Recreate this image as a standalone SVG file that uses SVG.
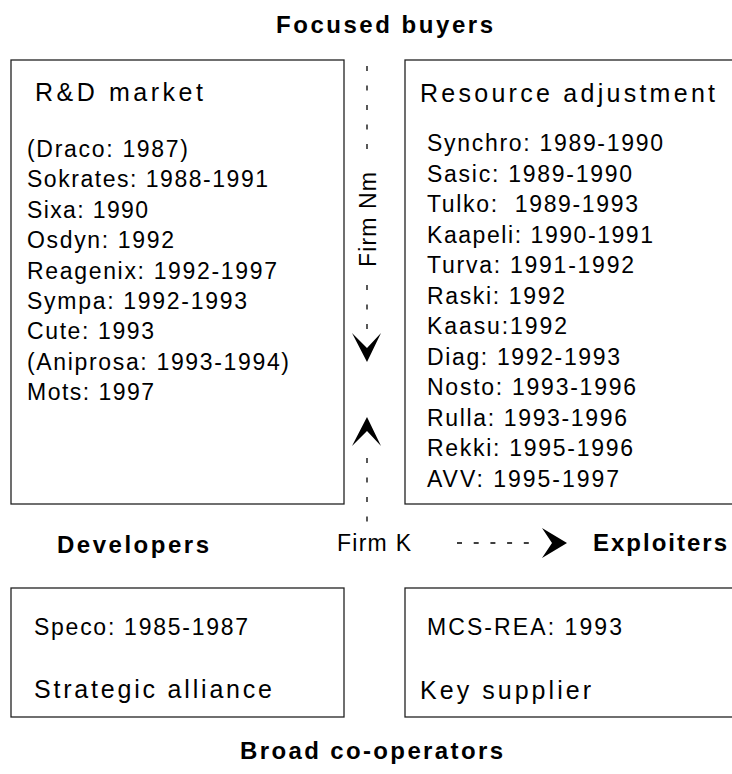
<svg xmlns="http://www.w3.org/2000/svg" width="732" height="774" viewBox="0 0 732 774">
<style>
text{font-family:"Liberation Sans",Arial,sans-serif;fill:#000}
.t{font-size:23px}
.h{font-size:25px}
.b{font-size:24px;font-weight:bold}
.box{fill:#fff;stroke:#222;stroke-width:1.3}
.dash{fill:none;stroke:#000;stroke-width:1.3}
.ah{fill:#000}
</style>
<rect width="732" height="774" fill="#fff"/>

<g id="label-focused"><text class="b" x="276" y="33" textLength="217">Focused buyers</text></g>

<g id="rd-market">
<rect class="box" x="11" y="60" width="333" height="444"/>
<text class="h" x="35" y="101" textLength="168">R&amp;D market</text>
<text class="t" x="27" y="157" textLength="161">(Draco: 1987)</text>
<text class="t" x="27" y="187.4" textLength="241">Sokrates: 1988-1991</text>
<text class="t" x="27" y="217.8" textLength="121">Sixa: 1990</text>
<text class="t" x="27" y="248.2" textLength="147">Osdyn: 1992</text>
<text class="t" x="27" y="278.6" textLength="250">Reagenix: 1992-1997</text>
<text class="t" x="27" y="309" textLength="220">Sympa: 1992-1993</text>
<text class="t" x="27" y="339.4" textLength="127">Cute: 1993</text>
<text class="t" x="27" y="369.8" textLength="262">(Aniprosa: 1993-1994)</text>
<text class="t" x="27" y="400.2" textLength="127">Mots: 1997</text>
</g>

<g id="resource-adjustment">
<rect class="box" x="405" y="60" width="340" height="444"/>
<text class="h" x="420" y="102" textLength="295">Resource adjustment</text>
<text class="t" x="427" y="151" textLength="236">Synchro: 1989-1990</text>
<text class="t" x="427" y="181.5" textLength="205">Sasic: 1989-1990</text>
<text class="t" x="427" y="212" textLength="211" xml:space="preserve">Tulko:  1989-1993</text>
<text class="t" x="427" y="242.5" textLength="226">Kaapeli: 1990-1991</text>
<text class="t" x="427" y="273" textLength="207">Turva: 1991-1992</text>
<text class="t" x="427" y="303.5" textLength="138">Raski: 1992</text>
<text class="t" x="427" y="334" textLength="140">Kaasu:1992</text>
<text class="t" x="427" y="364.5" textLength="193">Diag: 1992-1993</text>
<text class="t" x="427" y="395" textLength="209">Nosto: 1993-1996</text>
<text class="t" x="427" y="425.5" textLength="200">Rulla: 1993-1996</text>
<text class="t" x="427" y="456" textLength="206">Rekki: 1995-1996</text>
<text class="t" x="427" y="486.5" textLength="192">AVV: 1995-1997</text>
</g>

<g id="label-developers"><text class="b" x="57" y="553" textLength="152">Developers</text></g>
<g id="label-exploiters"><text class="b" x="593" y="551" textLength="134">Exploiters</text></g>

<g id="strategic-alliance">
<rect class="box" x="11" y="588" width="333" height="129"/>
<text class="t" x="34" y="635" textLength="214">Speco: 1985-1987</text>
<text class="h" x="34" y="698" textLength="238">Strategic alliance</text>
</g>

<g id="key-supplier">
<rect class="box" x="405" y="588" width="340" height="129"/>
<text class="t" x="427" y="635" textLength="195">MCS-REA: 1993</text>
<text class="h" x="420" y="699" textLength="171">Key supplier</text>
</g>

<g id="label-broad"><text class="b" x="240" y="759" textLength="263">Broad co-operators</text></g>

<g id="firm-nm"><text class="t" transform="translate(376,267) rotate(-90)" textLength="95">Firm Nm</text></g>
<g id="firm-k"><text class="t" x="337" y="551" textLength="74">Firm K</text></g>

<g id="connectors">
<path class="dash" stroke-dasharray="5 14.5" d="M367,66 V162 M367,285 V332 M367,458 V524"/>
<path class="ah" d="M352,333 L367,348 L381,333 L367,362 Z"/>
<path class="ah" d="M352,446 L367,431 L381,446 L367,417 Z"/>
<path class="dash" stroke-dasharray="5 11.7" d="M457,543 H532"/>
<path class="ah" d="M542,528 L567,543 L542,558 L552,543 Z"/>
</g>
</svg>
